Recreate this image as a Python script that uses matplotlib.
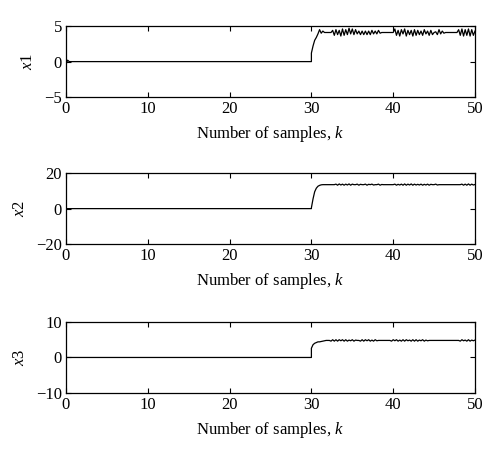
import numpy as np
import matplotlib.pyplot as plt

plt.rcParams["font.family"] = "Liberation Serif"
plt.rcParams["mathtext.fontset"] = "custom"
plt.rcParams["mathtext.rm"] = "Liberation Serif"
plt.rcParams["mathtext.it"] = "Liberation Serif:italic"
plt.rcParams["font.size"] = 11

# ---- data ----
# flat part before the step (k = 0 .. 30)
k_pre = [0.0, 0.2, 0.4, 30.0]
x1_pre = [-0.4, 0.2, 0.0, 0.0]
x2_pre = [0.0, 0.0, 0.0, 0.0]
x3_pre = [0.0, 0.0, 0.0, 0.0]

# samples after the step, k = 30.0, 30.2, ..., 50.0
k_post = np.linspace(30, 50, 101)

x1_post = [
    1.2, 2.2, 3.0, 3.4, 3.9,
    4.5, 4.0, 4.3, 4.1, 4.1,
    4.1, 4.1, 4.1, 4.4, 3.7,
    4.5, 3.8, 4.4, 3.6, 4.6,
    3.7, 4.5, 3.8, 4.7, 3.9,
    4.6, 3.8, 4.5, 3.9, 4.3,
    3.8, 4.3, 3.8, 4.3, 3.8,
    4.3, 3.8, 4.4, 3.9, 4.3,
    3.9, 4.4, 4.0, 4.1, 4.1,
    4.1, 4.1, 4.1, 4.1, 4.1,
    4.1, 4.6, 3.7, 4.4, 3.6,
    4.5, 3.9, 4.6, 3.6, 4.4,
    3.8, 4.4, 3.6, 4.5, 3.7,
    4.4, 3.8, 4.3, 3.7, 4.5,
    3.9, 4.3, 3.7, 4.4, 3.8,
    4.1, 4.2, 3.8, 4.5, 3.9,
    4.3, 4.0, 4.1, 4.1, 4.1,
    4.1, 4.1, 4.1, 4.1, 4.1,
    4.5, 3.7, 4.6, 3.6, 4.5,
    3.7, 4.6, 3.6, 4.5, 3.7,
    4.3,
]

x2_post = [
    0.5, 5.5, 9.5, 11.5, 12.6,
    13.1, 13.4, 13.5, 13.5, 13.5,
    13.5, 13.5, 13.5, 13.5, 13.5,
    13.8, 13.2, 13.9, 13.3, 13.8,
    13.2, 13.8, 13.3, 13.9, 13.2,
    13.8, 13.5, 13.5, 13.8, 13.2,
    13.7, 13.5, 13.5, 13.8, 13.2,
    13.7, 13.5, 13.8, 13.3, 13.5,
    13.5, 13.8, 13.2, 13.6, 13.5,
    13.5, 13.5, 13.5, 13.5, 13.5,
    13.5, 13.8, 13.2, 13.7, 13.3,
    13.8, 13.2, 13.9, 13.2, 13.8,
    13.3, 13.9, 13.2, 13.8, 13.3,
    13.7, 13.3, 13.8, 13.2, 13.7,
    13.3, 13.8, 13.2, 13.7, 13.5,
    13.5, 13.8, 13.3, 13.5, 13.5,
    13.5, 13.5, 13.5, 13.5, 13.5,
    13.5, 13.5, 13.5, 13.5, 13.5,
    13.5, 13.5, 13.8, 13.2, 13.8,
    13.2, 13.9, 13.2, 13.8, 13.3,
    13.6,
]

x3_post = [
    2.6, 3.6, 4.0, 4.2, 4.4,
    4.4, 4.5, 4.6, 4.7, 4.8,
    4.8, 4.8, 4.6, 5.0, 4.6,
    5.0, 4.6, 5.0, 4.7, 5.0,
    4.6, 5.0, 4.6, 4.9, 4.7,
    5.0, 4.6, 4.9, 4.8, 4.8,
    4.6, 5.0, 4.6, 5.0, 4.7,
    5.0, 4.6, 4.9, 4.6, 5.0,
    4.7, 4.8, 4.8, 4.8, 4.8,
    4.8, 4.8, 4.8, 4.8, 4.6,
    5.0, 4.7, 5.0, 4.6, 4.9,
    4.6, 5.0, 4.6, 5.0, 4.7,
    4.9, 4.6, 5.0, 4.6, 5.0,
    4.6, 4.9, 4.7, 5.0, 4.6,
    4.9, 4.7, 4.8, 4.8, 4.8,
    4.8, 4.8, 4.8, 4.8, 4.8,
    4.8, 4.8, 4.8, 4.8, 4.8,
    4.8, 4.8, 4.8, 4.8, 4.8,
    4.8, 4.6, 5.0, 4.7, 4.9,
    4.6, 5.0, 4.6, 4.9, 4.7,
    4.9,
]

series = [
    ("$x$1", x1_pre, x1_post, [-5, 0, 5]),
    ("$x$2", x2_pre, x2_post, [-20, 0, 20]),
    ("$x$3", x3_pre, x3_post, [-10, 0, 10]),
]

fig = plt.figure(figsize=(5.0, 4.58), dpi=100)
bottoms = [0.788, 0.467, 0.142]

for (lab, pre, post, yt), b in zip(series, bottoms):
    ax = fig.add_axes([0.132, b, 0.818, 0.155])
    k = np.concatenate([k_pre, k_post])
    y = np.concatenate([pre, post])
    ax.plot(k, y, color="k", lw=0.9)
    ax.set_xlim(0, 50)
    ax.set_ylim(yt[0], yt[-1])
    ax.set_xticks([0, 10, 20, 30, 40, 50])
    ax.set_yticks(yt)
    ax.set_yticklabels([str(v).replace("-", "\u2212") for v in yt])
    ax.tick_params(direction="in", top=True, right=True, length=3.5,
                   width=0.8, labelsize=12, pad=3)
    for s in ax.spines.values():
        s.set_linewidth(0.9)
    ax.set_ylabel(lab, fontsize=12, labelpad=6)
    ax.set_xlabel("Number of samples, $k$", fontsize=12, labelpad=5)

fig.savefig("out.png", dpi=100, facecolor="w")
